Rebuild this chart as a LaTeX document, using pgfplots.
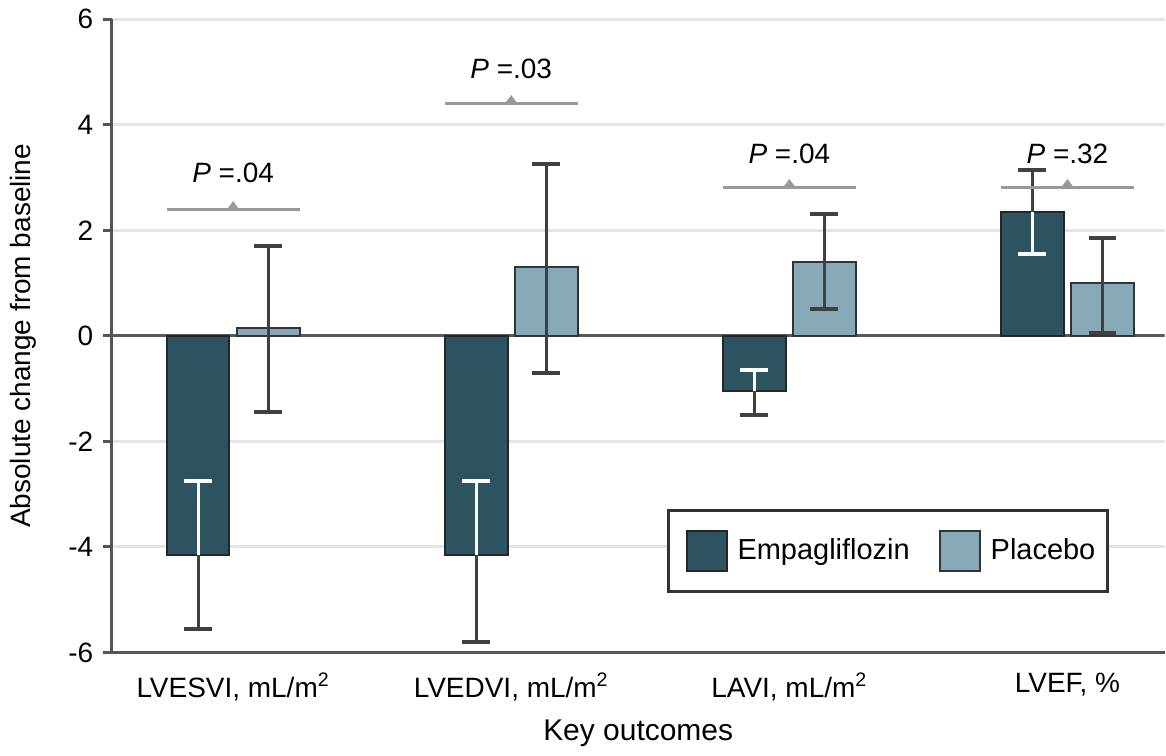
\documentclass[border=0pt]{standalone}
\usepackage{pgfplots}
\pgfplotsset{compat=1.18}
\usepackage{fontspec}
\setmainfont{Liberation Sans}
\definecolor{empcol}{HTML}{2D5361}
\definecolor{placol}{HTML}{87A9B8}
\definecolor{gridc}{HTML}{E4E4E4}
\definecolor{axc}{HTML}{555555}
\definecolor{brc}{HTML}{999999}
\pgfplotsset{
  errdark/.style={forget plot, draw=none, mark=none, error bars/y explicit,
    error bars/error bar style={draw=black!75, line width=1.5pt},
    error bars/error mark options={draw=black!75, line width=2pt, mark size=7pt, rotate=90}},
  errwhite/.style={forget plot, draw=none, mark=none, error bars/y explicit,
    error bars/error bar style={draw=white, line width=1.5pt},
    error bars/error mark options={draw=white, line width=2pt, mark size=7pt, rotate=90}},
}
\begin{document}
\fontsize{14}{16}\selectfont
\begin{tikzpicture}
\begin{axis}[
  scale only axis, width=527pt, height=317pt,
  xmin=-0.436, xmax=3.349, ymin=-6, ymax=6,
  axis x line=bottom, axis y line=left,
  x axis line style={-}, y axis line style={-},
  axis line style={draw=axc, line width=1.5pt},
  xtick={0,1,2,3},
  xticklabels={{LVESVI, mL/m\textsuperscript{2}},{LVEDVI, mL/m\textsuperscript{2}},{LAVI, mL/m\textsuperscript{2}},{LVEF, \%}},
  x tick style={draw=none},
  ytick={-6,-4,-2,0,2,4,6},
  y tick style={draw=axc, line width=1.5pt},
  tick align=outside, major tick length=4.5pt,
  ymajorgrids, grid style={gridc, line width=1.5pt},
  /pgf/number format/assume math mode=true,
  ticklabel style={font=\fontsize{14}{16}\selectfont},
  xticklabel style={yshift=-1pt},
  label style={font=\fontsize{15}{17}\selectfont},
  xlabel={Key outcomes},
  ylabel={Absolute change from baseline},
  every axis y label/.style={at={([xshift=-51pt]axis description cs:0,0.5)}, rotate=90, anchor=north, inner sep=0pt},
  legend style={draw=black!80, line width=1.5pt, at={(0.5275,0.2271)}, anchor=north west,
    font=\fontsize{14.5}{16}\selectfont, inner xsep=4pt, inner ysep=10pt},
  legend columns=2,
  legend cell align=left,
  /tikz/every even column/.append style={column sep=8pt},
]
\addlegendimage{legend image code/.code={\path (-4.5pt,0pt) (22.5pt,0pt); \draw[fill=empcol, draw=black!85, line width=1pt] (0pt,-10pt) rectangle (20pt,10pt);}}
\addlegendentry{Empagliflozin}
\addlegendimage{legend image code/.code={\path (-4.5pt,0pt) (22.5pt,0pt); \draw[fill=placol, draw=black!80, line width=1pt] (0pt,-10pt) rectangle (20pt,10pt);}}
\addlegendentry{Placebo}

% zero line
\addplot[forget plot, draw=black!65, line width=1.5pt] coordinates {(-0.436,0) (3.349,0)};

% bars
\addplot[forget plot, ybar, bar width=0.226, bar shift=0pt, fill=empcol, draw=black!85, line width=1pt]
  coordinates {(-0.126,-4.15) (0.874,-4.15) (1.874,-1.05) (2.874,2.35)};
\addplot[forget plot, ybar, bar width=0.226, bar shift=0pt, fill=placol, draw=black!80, line width=1pt]
  coordinates {(0.126,0.15) (1.126,1.30) (2.126,1.40) (3.126,1.00)};

% Empagliflozin error bars: dark outside the bar
\addplot[errdark, error bars/y dir=minus]
  coordinates {(-0.126,-4.15) +- (0,1.40) (0.874,-4.15) +- (0,1.65) (1.874,-1.05) +- (0,0.45)};
\addplot[errdark, error bars/y dir=plus]
  coordinates {(2.874,2.35) +- (0,0.80)};
% Empagliflozin error bars: white inside the bar
\addplot[errwhite, error bars/y dir=plus]
  coordinates {(-0.126,-4.15) +- (0,1.40) (0.874,-4.15) +- (0,1.40) (1.874,-1.05) +- (0,0.40)};
\addplot[errwhite, error bars/y dir=minus]
  coordinates {(2.874,2.35) +- (0,0.80)};
% Placebo error bars
\addplot[errdark, error bars/y dir=both]
  coordinates {(0.126,0.15) += (0,1.55) -= (0,1.60)
               (1.126,1.30) += (0,1.95) -= (0,2.00)
               (2.126,1.40) += (0,0.90) -= (0,0.90)
               (3.126,1.00) += (0,0.85) -= (0,0.95)};

% P value brackets
\draw[brc, line width=1.5pt] (axis cs:-0.239,2.40) -- (axis cs:0.239,2.40);
\draw[brc, line width=1.5pt] (axis cs:0.761,4.41) -- (axis cs:1.239,4.41);
\draw[brc, line width=1.5pt] (axis cs:1.761,2.82) -- (axis cs:2.239,2.82);
\draw[brc, line width=1.5pt] (axis cs:2.761,2.82) -- (axis cs:3.239,2.82);
\fill[brc] ([xshift=-3pt]axis cs:0,2.40) -- ([yshift=4pt]axis cs:0,2.40) -- ([xshift=3pt]axis cs:0,2.40) -- cycle;
\fill[brc] ([xshift=-3pt]axis cs:1,4.41) -- ([yshift=4pt]axis cs:1,4.41) -- ([xshift=3pt]axis cs:1,4.41) -- cycle;
\fill[brc] ([xshift=-3pt]axis cs:2,2.82) -- ([yshift=4pt]axis cs:2,2.82) -- ([xshift=3pt]axis cs:2,2.82) -- cycle;
\fill[brc] ([xshift=-3pt]axis cs:3,2.82) -- ([yshift=4pt]axis cs:3,2.82) -- ([xshift=3pt]axis cs:3,2.82) -- cycle;
\node[font=\fontsize{14}{16}\selectfont] at (axis cs:0,3.09) {\textit{P} =.04};
\node[font=\fontsize{14}{16}\selectfont] at (axis cs:1,5.06) {\textit{P} =.03};
\node[font=\fontsize{14}{16}\selectfont] at (axis cs:2,3.45) {\textit{P} =.04};
\node[font=\fontsize{14}{16}\selectfont] at (axis cs:3,3.45) {\textit{P} =.32};
\end{axis}
\path (current axis.south west) ++(-56pt,0pt);
\end{tikzpicture}
\end{document}
